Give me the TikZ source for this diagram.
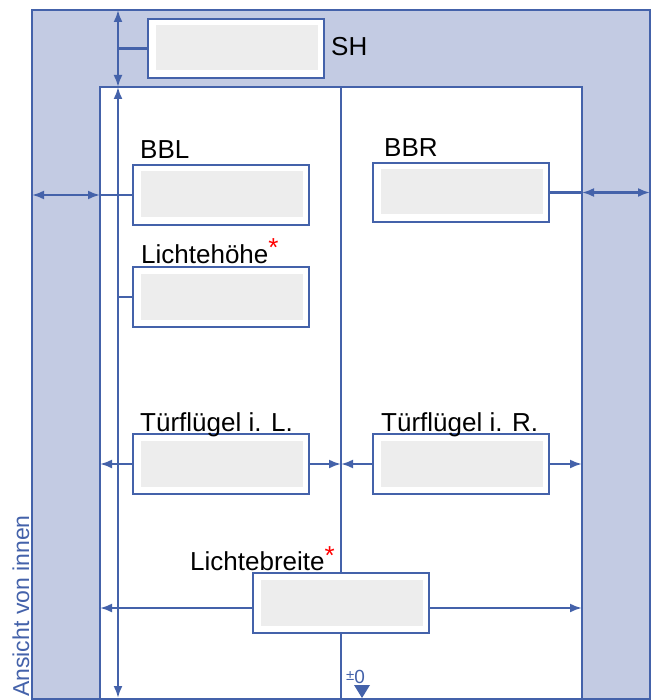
\documentclass[tikz,border=0pt]{standalone}
\usepackage{fontspec}
\setmainfont{Liberation Sans}
\usetikzlibrary{arrows.meta}
\definecolor{blau}{HTML}{4462AA}
\definecolor{hellblau}{HTML}{C3CBE3}
\definecolor{feldgrau}{HTML}{EDEDED}
\newcommand\stern{\raisebox{6pt}{\textcolor{red}{*}}}
\begin{document}
\begin{tikzpicture}[x=1pt,y=-1pt,
    rahmen/.style={draw=blau,line width=2.6pt,inner sep=0pt,outer sep=0pt},
    feld/.style={draw=blau,fill=white,line width=2.8pt,minimum width=176pt,minimum height=60pt,inner sep=0pt,outer sep=0pt,
        path picture={\fill[feldgrau] ([shift={(7.5pt,-6.5pt)}]path picture bounding box.north west) rectangle ([shift={(-6.5pt,7.5pt)}]path picture bounding box.south east);}},
    linie/.style={draw=blau,line width=2.2pt},
    pfeil/.style={linie,-{Latex[length=12pt,width=9pt]}},
    doppel/.style={linie,{Latex[length=12pt,width=9pt]}-{Latex[length=12pt,width=9pt]}},
    txt/.style={font=\fontsize{26}{30}\selectfont,anchor=base west,inner sep=0pt}]
    \useasboundingbox (0,0) rectangle (653,700);
    % Rahmen
    \node[rahmen,fill=hellblau,minimum width=618pt,minimum height=689pt] (aussen) at (341,354.5) {};
    \node[rahmen,fill=white,minimum width=482pt,minimum height=612pt] (innen) at (341,393) {};
    \draw[linie] (innen.north) -- (innen.south);
    \coordinate (mass) at (118,0);
    \draw[doppel] (aussen.north -| mass) -- (innen.north -| mass);
    \draw[doppel] (innen.north -| mass) -- ([yshift=1pt]innen.south -| mass);
    % Felder
    \node[feld,minimum height=59pt] (sh) at (236,48.5) {};
    \node[feld] (bbl) at (221,195) {};
    \node[feld,minimum height=59pt] (bbr) at (461,192.5) {};
    \node[feld] (lh) at (221,297) {};
    \node[feld] (tl) at (221,464) {};
    \node[feld] (tr) at (461,464) {};
    \node[feld] (lb) at (341,603) {};
    \node[txt] (shtxt) at (331,56) {SH};
    \node[txt] (bbltxt) at (140,159) {BBL};
    \node[txt] (bbrtxt) at (384,157) {BBR};
    \node[txt] (lhtxt) at (141,263) {Lichtehöhe\stern};
    \node[txt] (tltxt) at (140,431) {Türflügel i. L.};
    \node[txt] (trtxt) at (381,431) {Türflügel i. R.};
    \node[txt] (lbtxt) at (190,570) {Lichtebreite\stern};
    % Masslinien
    \draw[linie] (sh.west -| mass) -- (sh.west);
    \draw[linie] (lh.west -| mass) -- (lh.west);
    \draw[linie] (bbl.west) -- (bbl.west -| innen.west);
    \draw[doppel] (bbl.west -| aussen.west) -- (bbl.west -| innen.west);
    \draw[linie] (bbr.east) -- (bbr.east -| innen.east);
    \draw[doppel] (bbr.east -| innen.east) -- (bbr.east -| aussen.east);
    \draw[pfeil] (tl.west) -- (tl.west -| innen.west);
    \draw[pfeil] (tl.east) -- (tl.east -| innen.north);
    \draw[pfeil] (tr.west) -- (tr.west -| innen.north);
    \draw[pfeil] (tr.east) -- (tr.east -| innen.east);
    \draw[pfeil] ([yshift=-5pt]lb.west) -- ([yshift=-5pt]lb.west -| innen.west);
    \draw[pfeil] ([yshift=-5pt]lb.east) -- ([yshift=-5pt]lb.east -| innen.east);
    % Nullpunkt
    \node[text=blau,inner sep=0pt,anchor=base west] (null) at (346,683)
        {{\fontsize{15}{15}\selectfont\raisebox{3pt}{±}}\fontsize{19}{19}\selectfont 0};
    \fill[blau] (354,685) -- (370,685) -- (362,698) -- cycle;
    \node[font=\fontsize{23}{23}\selectfont,text=blau,rotate=90,anchor=east,inner sep=0pt] (ansicht) at (21,515) {Ansicht von innen};
\end{tikzpicture}
\end{document}
